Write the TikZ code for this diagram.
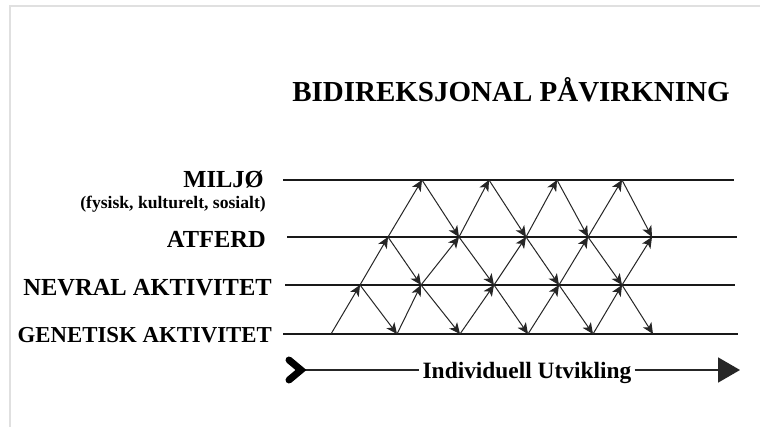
\documentclass[tikz,border=0pt]{standalone}
\usepackage{fontspec}
\setmainfont{Liberation Serif}
\usetikzlibrary{arrows.meta}
\begin{document}
\begin{tikzpicture}[x=1pt,y=-1pt,
  lvl/.style={line width=1.8pt, black!90},
  link/.style={line width=1pt, black!85, -{Stealth[length=11pt,width=10pt,inset=3pt]}},
  lab/.style={font=\fontsize{24.5}{28}\selectfont\bfseries, anchor=base east, inner sep=0pt},
  sublab/.style={font=\fontsize{17.6}{20}\selectfont\bfseries, anchor=base east, inner sep=0pt},
  axisline/.style={line width=1.8pt, black!85},
  chev/.style={line width=7pt, line cap=round, line join=miter, black}
]
\useasboundingbox (0,0) rectangle (760,427);
\fill[white] (0,0) rectangle (760,427);
\draw[black!12, line width=1.5pt] (760,6) -- (10,6) -- (10,427);

% title
\node[font=\fontsize{29}{33}\selectfont\bfseries, anchor=base, inner sep=0pt] (title) at (511,102) {BIDIREKSJONAL PÅVIRKNING};

% level labels
\node[lab] (miljo) at (264,188) {MILJØ};
\node[sublab] (miljosub) at (266,209) {(fysisk, kulturelt, sosialt)};
\node[lab] (atferd) at (266,248) {ATFERD};
\node[lab] (nevral) at (272,296) {NEVRAL AKTIVITET};
\node[lab, font=\fontsize{22.8}{26}\selectfont\bfseries] (genetisk) at (272,343) {GENETISK AKTIVITET};

% level lines
\coordinate (Ms) at (283,180); \coordinate (Me) at (734,180);
\coordinate (As) at (287,237); \coordinate (Ae) at (737,237);
\coordinate (Ns) at (285,285); \coordinate (Ne) at (735,285);
\coordinate (Gs) at (283,334); \coordinate (Ge) at (738,334);
\draw[lvl] (Ms) -- (Me);
\draw[lvl] (As) -- (Ae);
\draw[lvl] (Ns) -- (Ne);
\draw[lvl] (Gs) -- (Ge);

% lattice points on each level
\foreach \x [count=\i from 0] in {331,397,460,528,593,653} \coordinate (G\i) at (\x,334);
\foreach \x [count=\i from 0] in {360,421,494,559,622} \coordinate (N\i) at (\x,285);
\foreach \x [count=\i from 0] in {388,459,526,588,652} \coordinate (A\i) at (\x,237);
\foreach \x [count=\i from 0] in {422,489,557,622} \coordinate (M\i) at (\x,180);

% upward influences
\foreach \i in {0,...,3} {
  \draw[link] (G\i) -- (N\i);
  \draw[link] (N\i) -- (A\i);
  \draw[link] (A\i) -- (M\i);
}
\draw[link] (G4) -- (N4);
\draw[link] (N4) -- (A4);

% downward influences
\draw[link] (N0) -- (G1);
\draw[link] (A0) -- (N1);
\draw[link] (N1) -- (G2);
\draw[link] (M0) -- (A1);
\draw[link] (A1) -- (N2);
\draw[link] (N2) -- (G3);
\draw[link] (M1) -- (A2);
\draw[link] (A2) -- (N3);
\draw[link] (N3) -- (G4);
\draw[link] (M2) -- (A3);
\draw[link] (A3) -- (N4);
\draw[link] (N4) -- (G5);
\draw[link] (M3) -- (A4);

% time axis
\coordinate (tail) at (301,370);
\coordinate (head) at (740,370);
\node[font=\fontsize{23.4}{27}\selectfont\bfseries, anchor=base, inner xsep=3pt, inner ysep=0pt] (utv) at (527,378) {Individuell Utvikling};
\draw[axisline] (tail) -- (tail -| utv.west);
\draw[axisline, -{Triangle[length=22pt,width=25pt]}] (tail -| utv.east) -- (head);
\draw[chev] (tail) ++(-12,-10) -- (tail) -- ++(-12,10);
\end{tikzpicture}
\end{document}
